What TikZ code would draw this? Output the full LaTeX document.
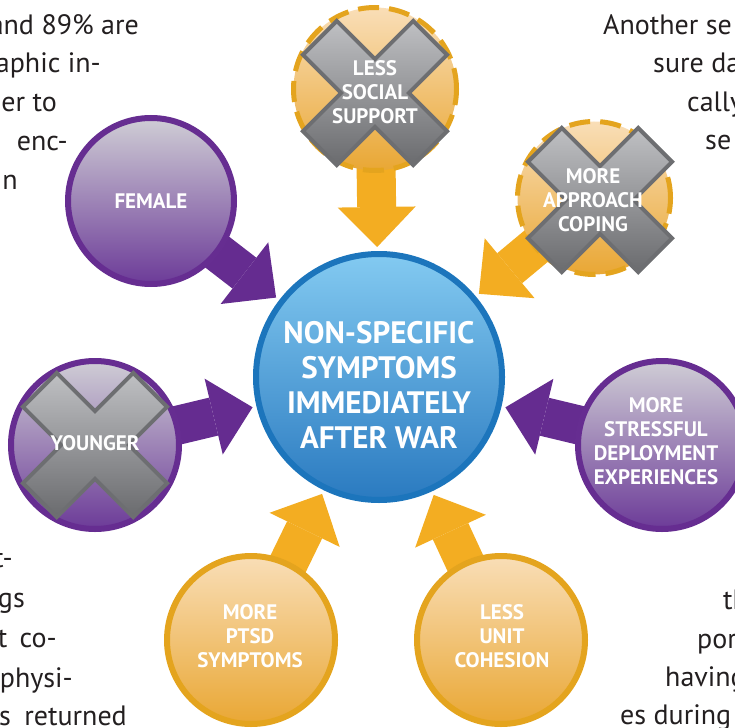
\documentclass[tikz,border=0pt]{standalone}
\usepackage{fontspec}
\setmainfont{PT Sans}
\usetikzlibrary{arrows.meta,backgrounds}

\definecolor{purpline}{HTML}{662D91}
\definecolor{purptop}{HTML}{CFCDD5}
\definecolor{purpbot}{HTML}{6C3B98}
\definecolor{purparrow}{HTML}{652C90}
\definecolor{orline}{HTML}{E4A41E}
\definecolor{ortop}{HTML}{F9DEB7}
\definecolor{orbot}{HTML}{E9A734}
\definecolor{orarrow}{HTML}{F3AD22}
\definecolor{blueline}{HTML}{1C75BC}
\definecolor{bluetop}{HTML}{83CAF1}
\definecolor{bluebot}{HTML}{2A7AC0}
\definecolor{xedge}{HTML}{6D6E71}
\definecolor{xtop}{HTML}{BFC0C3}
\definecolor{xbot}{HTML}{6A6B6E}
\definecolor{ink}{HTML}{231F20}

\tikzset{
  cause/.style={circle, inner sep=0pt, line width=6pt, minimum size=168pt,
    text=white, align=center, font=\bfseries\fontsize{21}{24}\selectfont},
  purplecause/.style={cause, draw=purpline, top color=purptop, bottom color=purpbot},
  orangecause/.style={cause, draw=orline, top color=ortop, bottom color=orbot},
  dashedcause/.style={orangecause, line width=5pt, dash pattern=on 21pt off 10pt},
  causelabel/.style={text=white, align=center, inner sep=0pt,
    font=\bfseries\fontsize{21}{24}\selectfont},
  push/.style={line width=39pt, shorten >=4pt,
    -{Triangle[length=40pt,width=78pt,line width=0pt]}},
  bodyline/.style={inner sep=0pt, text=ink, font=\fontsize{28}{34}\selectfont},
  crossmark/.pic={
    \draw[line width=4pt, draw=xedge, top color=xtop, bottom color=xbot]
      (38.2,72.1) -- (0,33.9) -- (-38.2,72.1) -- (-72.1,38.2) -- (-33.9,0)
      -- (-72.1,-38.2) -- (-38.2,-72.1) -- (0,-33.9) -- (38.2,-72.1)
      -- (72.1,-38.2) -- (33.9,0) -- (72.1,38.2) -- cycle;
  }
}

\begin{document}
\begin{tikzpicture}[x=1pt, y=-1pt]
  \useasboundingbox (0,0) rectangle (735,727);
  \clip (0,0) rectangle (735,727);

  % text of the page around the figure
  \node[bodyline, anchor=base east] (tl1) at (139,35) {and 89\% are};
  \node[bodyline, anchor=base east] (tl2) at (101,73) {aphic in-};
  \node[bodyline, anchor=base east] (tl3) at (57,112) {er to};
  \node[bodyline, anchor=base east] (tl4) at (68,151) {enc-};
  \node[bodyline, anchor=base east] (tl5) at (18,190) {n};

  \node[bodyline, anchor=base west] (tr1) at (603,35) {Another se};
  \node[bodyline, anchor=base west] (tr2) at (653,73) {sure da};
  \node[bodyline, anchor=base west] (tr3) at (687,112) {cally};
  \node[bodyline, anchor=base west] (tr4) at (705,150) {se};

  \node[bodyline, anchor=base east] (bl1) at (13,567) {t-};
  \node[bodyline, anchor=base east] (bl2) at (25,607) {gs};
  \node[bodyline, anchor=base east] (bl3) at (57,647) {t\hspace{5pt} co-};
  \node[bodyline, anchor=base east] (bl4) at (73,687) {f\hspace{8pt} physi-};
  \node[bodyline, anchor=base east] (bl5) at (127,725) {s\hspace{6pt} returned};

  \node[bodyline, anchor=base west] (br1) at (723,609) {th};
  \node[bodyline, anchor=base west] (br2) at (697,648) {por};
  \node[bodyline, anchor=base west] (br3) at (665,686) {having};
  \node[bodyline, anchor=base west] (br4) at (620,724) {es during};

  % centre
  \node[circle, inner sep=0pt, line width=6pt, minimum size=246pt,
        draw=blueline, top color=bluetop, bottom color=bluebot] (core) at (379,377) {};
  \node[text=white, align=center, inner sep=0pt,
        font=\bfseries\fontsize{31}{35}\selectfont]
        (corelabel) at (379,385) {NON-SPECIFIC\\SYMPTOMS\\IMMEDIATELY\\AFTER WAR};

  % factors
  \node[purplecause, minimum size=166pt] (female) at (151,201) {FEMALE};
  \node[purplecause] (younger) at (95,445) {};
  \node[dashedcause, minimum size=163pt] (social) at (375,89) {};
  \node[dashedcause, minimum size=153pt] (coping) at (594,198) {};
  \node[purplecause] (stress) at (662,445) {};
  \node[orangecause] (ptsd) at (251,640) {};
  \node[orangecause] (cohesion) at (501,640) {};

  % crossed out factors
  \pic at (younger) {crossmark};
  \pic at (375,93) {crossmark};
  \pic at (600,200) {crossmark};

  % labels
  \node[causelabel] (youngerlabel) at (95,443) {YOUNGER};
  \node[causelabel] (sociallabel) at (375,92) {LESS\\SOCIAL\\SUPPORT};
  \node[causelabel] (copinglabel) at (593,200) {MORE\\APPROACH\\COPING};
  \node[causelabel] (stresslabel) at (656,441) {MORE\\STRESSFUL\\DEPLOYMENT\\EXPERIENCES};
  \node[causelabel] (ptsdlabel) at (250,636) {MORE\\PTSD\\SYMPTOMS};
  \node[causelabel] (cohesionlabel) at (502,636) {LESS\\UNIT\\COHESION};

  % arrows into the centre
  \begin{pgfonlayer}{background}
    \draw[push, purparrow] (female.center) -- (core);
    \draw[push, purparrow] (younger.center) -- (core);
    \draw[push, purparrow] (stress.center) -- (core);
    \draw[push, orarrow] (social.center) -- (core);
    \draw[push, orarrow] (coping.center) -- (core);
    \draw[push, orarrow] (ptsd.center) -- (core);
    \draw[push, orarrow] (cohesion.center) -- (core);
  \end{pgfonlayer}
\end{tikzpicture}
\end{document}
